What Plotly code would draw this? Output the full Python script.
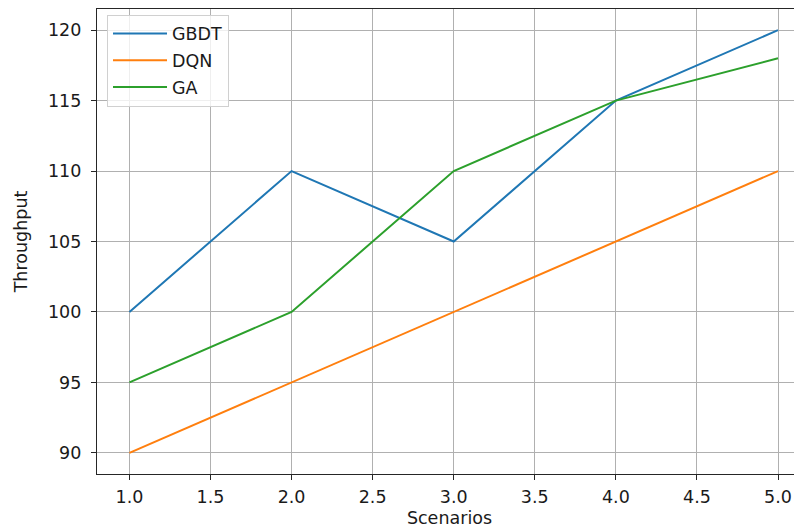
import plotly.graph_objects as go

scenarios = [1, 2, 3, 4, 5]
gbdt = [100, 110, 105, 115, 120]
dqn = [90, 95, 100, 105, 110]
ga = [95, 100, 110, 115, 118]

x_ticks = [1.0, 1.5, 2.0, 2.5, 3.0, 3.5, 4.0, 4.5, 5.0]
x_ticklabels = ["1.0", "1.5", "2.0", "2.5", "3.0", "3.5", "4.0", "4.5", "5.0"]
y_ticks = [90, 95, 100, 105, 110, 115, 120]

fig = go.Figure()
for name, vals, col in [("GBDT", gbdt, "#1f77b4"), ("DQN", dqn, "#ff7f0e"), ("GA", ga, "#2ca02c")]:
    fig.add_trace(go.Scatter(x=scenarios, y=vals, mode="lines", name=name, legendgroup=name,
                             line=dict(color=col, width=2)))

font = dict(family="DejaVu Sans", size=17.5, color="#1a1a1a")
fig.update_layout(
    width=794, height=521,
    margin=dict(l=89, r=0, t=1, b=55),
    paper_bgcolor="white", plot_bgcolor="white",
    font=font,
    showlegend=True,
    legend=dict(x=0.0142, y=0.988, xanchor="left", yanchor="top",
                bgcolor="rgba(255,255,255,0.8)", bordercolor="#d0d0d0", borderwidth=1,
                font=font, tracegroupgap=1, itemwidth=54),
    xaxis=dict(range=[0.8, 5.148], tickvals=x_ticks, ticktext=x_ticklabels,
               showgrid=True, gridcolor="#b0b0b0", gridwidth=1,
               showline=True, linecolor="#262626", linewidth=1.2, mirror=True,
               ticks="outside", ticklen=5, tickcolor="#262626",
               ticklabelstandoff=2,
               zeroline=False,
               title=dict(text="Scenarios", font=font, standoff=5)),
    yaxis=dict(range=[88.5, 121.5], tickvals=y_ticks,
               showgrid=True, gridcolor="#b0b0b0", gridwidth=1,
               showline=True, linecolor="#262626", linewidth=1.2, mirror=False,
               ticks="outside", ticklen=5, tickcolor="#262626",
               ticklabelstandoff=6,
               zeroline=False,
               title=dict(text="Throughput", font=font, standoff=15)),
)

fig.write_html("out.html")
